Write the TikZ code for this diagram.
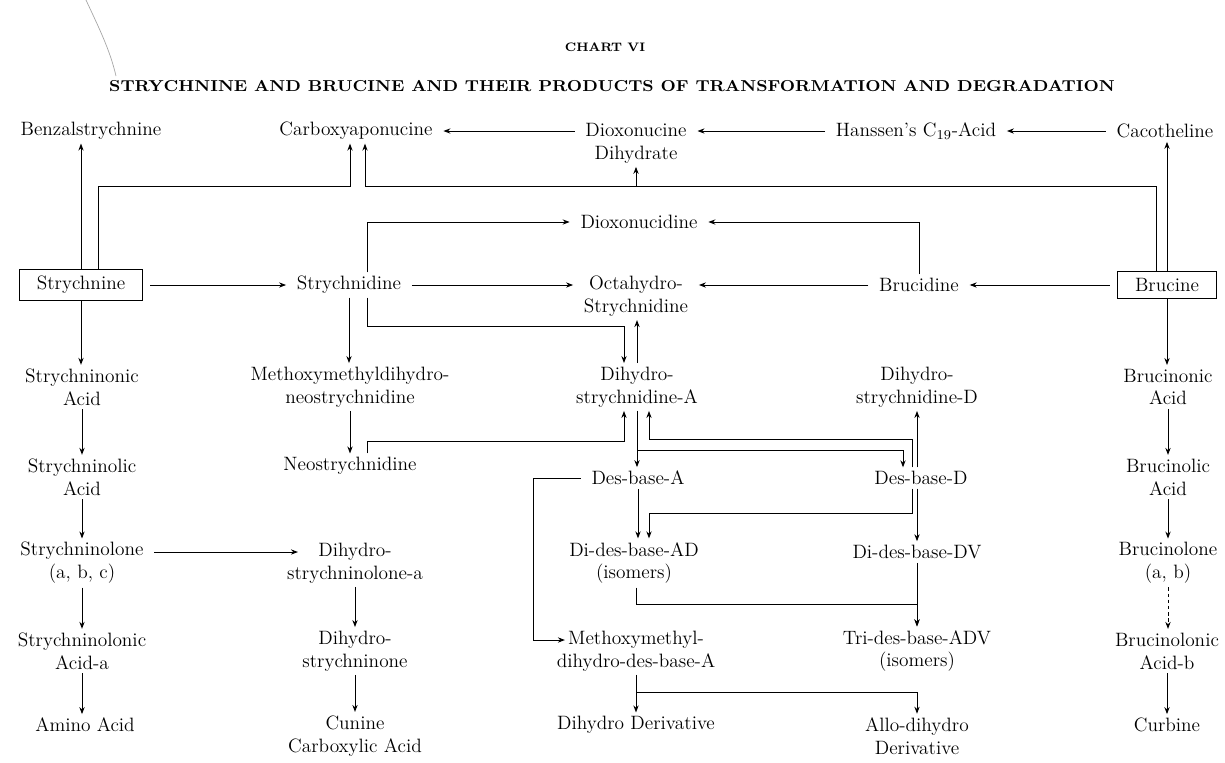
\documentclass[tikz,border=0pt]{standalone}
\usepackage{fontspec}
\usepackage{graphicx}
\usetikzlibrary{arrows.meta,calc}

\begin{document}
\begin{tikzpicture}[x=0.02cm, y=-0.02cm,
    every node/.style={font=\fontsize{11}{13}\selectfont, align=center, inner sep=2pt},
    boxed/.style={draw, line width=0.6pt, inner xsep=10pt, inner ysep=4pt},
    arr/.style={-{Stealth[length=4pt,width=3pt]}, line width=0.55pt},
    harr/.style={arr, shorten <=4pt, shorten >=4pt}]
    \useasboundingbox (0,0) rectangle (1225,762);

    % Page edge
    \draw[gray!70, thin] (86,0) .. controls (99,28) and (110,50) .. (116,76);

    % Titles
    \node (chart) at (605,47) {\bfseries\fontsize{7}{9}\selectfont CHART VI};
    \node (title) at (612,86) {\bfseries\fontsize{9}{11}\selectfont\scalebox{1.09}[1]{STRYCHNINE AND BRUCINE AND THEIR PRODUCTS OF TRANSFORMATION AND DEGRADATION}};

    % Top row
    \node (benzal) at (91,131) {Benzalstrychnine};
    \node (carboxy) at (356,131) {Carboxyaponucine};
    \node (dioxo) at (636,143) {Dioxonucine\\Dihydrate};
    \node (hanssen) at (916,131) {Hanssen’s C\textsubscript{19}-Acid};
    \node (caco) at (1165,131) {Cacotheline};
    \node (dioxid) at (639,222) {Dioxonucidine};

    % Parent bases
    \node[boxed] (strychnine) at (81,285) {Strychnine};
    \node (strychnidine) at (349,285) {Strychnidine};
    \node (octa) at (636,296) {Octahydro-\\Strychnidine};
    \node (brucidine) at (919,285) {Brucidine};
    \node[boxed] (brucine) at (1167,285) {Brucine};

    % Column nodes
    \node (strnonic) at (82,387) {Strychninonic\\Acid};
    \node (methneo) at (350,387) {Methoxymethyldihydro-\\neostrychnidine};
    \node (dihA) at (637,387) {Dihydro-\\strychnidine-A};
    \node (dihD) at (917,387) {Dihydro-\\strychnidine-D};
    \node (brnonic) at (1168,387) {Brucinonic\\Acid};

    \node (strnolic) at (82,477) {Strychninolic\\Acid};
    \node (neo) at (350,466) {Neostrychnidine};
    \node (desA) at (638,478) {Des-base-A};
    \node (desD) at (921,478) {Des-base-D};
    \node (brnolic) at (1168,477) {Brucinolic\\Acid};

    \node (strnolone) at (82,563) {Strychninolone\\(a, b, c)};
    \node (dhnolone) at (355,563) {Dihydro-\\strychninolone-a};
    \node (didesAD) at (634,563) {Di-des-base-AD\\(isomers)};
    \node (didesDV) at (917,552) {Di-des-base-DV};
    \node (brnolone) at (1168,563) {Brucinolone\\(a, b)};

    \node (strnolonic) at (82,651) {Strychninolonic\\Acid-a};
    \node (dhnone) at (355,651) {Dihydro-\\strychninone};
    \node (mdesA) at (636,651) {Methoxymethyl-\\dihydro-des-base-A};
    \node (tridesADV) at (917,651) {Tri-des-base-ADV\\(isomers)};
    \node (brnolonic) at (1167,651) {Brucinolonic\\Acid-b};

    \node (amino) at (85,725) {Amino Acid};
    \node (cunine) at (355,736) {Cunine\\Carboxylic Acid};
    \node (dhderiv) at (636,725) {Dihydro Derivative};
    \node (alloderiv) at (917,736) {Allo-dihydro\\Derivative};
    \node (curbine) at (1167,725) {Curbine};

    % Bends
    \coordinate (w1) at (98,186);
    \coordinate (w2) at (350,186);
    \coordinate (w3) at (1156,186);
    \coordinate (w4) at (365,186);
    \coordinate (j1) at (367,326);
    \coordinate (j2) at (624,326);
    \coordinate (j3) at (367,441);
    \coordinate (j4) at (624,441);
    \coordinate (j5) at (637,450);
    \coordinate (j6) at (903,450);
    \coordinate (j7) at (912,439);
    \coordinate (j8) at (649,439);
    \coordinate (j9) at (533,478);
    \coordinate (j10) at (533,640);
    \coordinate (j11) at (912,513);
    \coordinate (j12) at (649,513);
    \coordinate (j13) at (636,604);
    \coordinate (j14) at (917,604);
    \coordinate (j15) at (636,692);
    \coordinate (j16) at (917,692);

    % Top connections
    \draw[arr] (strychnine.north) -- (strychnine.north |- benzal.south);
    \draw[arr] (strychnine.north -| w1) -- (w1) -- (w2) -- (carboxy.south -| w2);
    \draw[arr] (brucine.north -| w3) -- (w3) -- (w4) -- (carboxy.south -| w4);
    \draw[arr] (dioxo.south |- w3) -- (dioxo.south);
    \draw[arr] (brucine.north) -- (brucine.north |- caco.south);
    \draw[harr] (caco.west) -- (hanssen.east);
    \draw[harr] (hanssen.west) -- (hanssen.west -| dioxo.east);
    \draw[harr] (carboxy.east -| dioxo.west) -- (carboxy.east);
    \draw[arr] ($(strychnidine.north)+(18,0)$) |- ([xshift=-4pt]dioxid.west);
    \draw[arr] (brucidine.north) |- ([xshift=4pt]dioxid.east);

    % Middle row
    \draw[harr] (strychnine.east) -- (strychnidine.west);
    \draw[harr] (strychnidine.east) -- (strychnidine.east -| octa.west);
    \draw[harr] (brucidine.west) -- (brucidine.west -| octa.east);
    \draw[harr] (brucine.west) -- (brucine.west -| brucidine.east);

    % Straight chains
    \foreach \a/\b in {strychnine/strnonic, strnonic/strnolic, strnolic/strnolone,
        strnolone/strnolonic, strnolonic/amino, strychnidine/methneo, methneo/neo,
        dhnolone/dhnone, dhnone/cunine, brucine/brnonic, brnonic/brnolic,
        brnolic/brnolone, brnolonic/curbine, dihA/desA, desA/didesAD,
        didesDV/tridesADV, mdesA/dhderiv}
        \draw[arr] (\a.south) -- (\a.south |- \b.north);
    \draw[arr, dash pattern=on 2pt off 1.5pt] (brnolone.south) -- (brnolone.south |- brnolonic.north);
    \draw[harr] ($(strnolone.east)+(0,-11)$) -- ($(dhnolone.center)+(-50,-11)$);

    % Dihydro / des-base links
    \draw[arr] (strychnidine.south -| j1) -- (j1) -- (j2) -- (dihA.north -| j2);
    \draw[arr] (dihA.north) -- (dihA.north |- octa.south);
    \draw[arr] (neo.north -| j3) -- (j3) -- (j4) -- (dihA.south -| j4);
    \draw[arr] (dihA.south) -- (j5) -- (j6) -- (desD.north -| j6);
    \draw[arr] (desD.north -| j7) -- (j7) -- (j8) -- (dihA.south -| j8);
    \draw[arr] (desD.north -| dihD.south) -- (dihD.south);
    \draw[arr] ([xshift=-4pt]desA.west) -- (j9) -- (j10) -- ($(mdesA.west)+(12,-11)$);
    \draw[arr] (desD.south -| j11) -- (j11) -- (j12) -- (didesAD.north -| j12);
    \draw[arr] (desD.south -| didesDV.north) -- (didesDV.north);
    \draw[arr] (didesAD.south -| j13) -- (j13) -- (j14) -- (tridesADV.north);
    \draw[arr] (mdesA.south) -- (j15) -- (j16) -- (alloderiv.north);
\end{tikzpicture}
\end{document}
